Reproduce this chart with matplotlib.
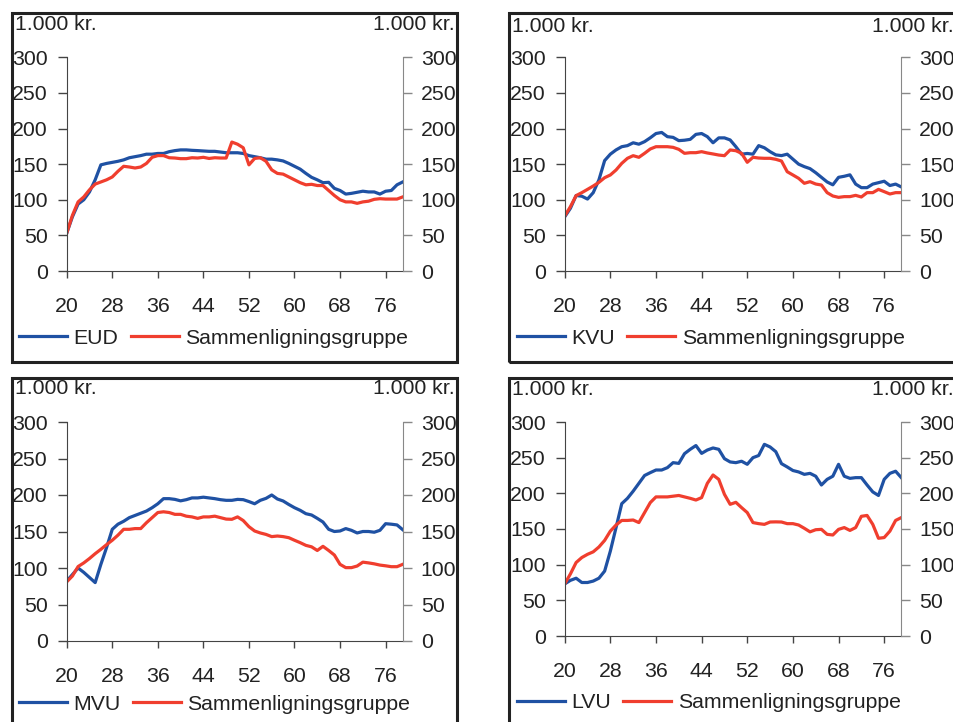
import matplotlib
matplotlib.use("Agg")
import matplotlib.pyplot as plt
from matplotlib.patches import Rectangle

plt.rcParams['font.family'] = ['Liberation Sans', 'DejaVu Sans']

W, H = 954, 722
BLUE = '#1f51a3'
RED = '#f03e2e'
TXT = '#222222'
FS = 15.3

ages = list(range(20, 80))
xticks = [20, 28, 36, 44, 52, 60, 68, 76]
yticks = [0, 50, 100, 150, 200, 250, 300]

eud = [53, 76, 94, 100, 111, 128, 149, 151, 152.5, 154,
       156, 159, 160.5, 162, 164, 164, 165, 165, 167.5, 169,
       170, 170, 169.4, 169, 168.5, 168, 168, 167, 166, 166,
       166, 165, 162, 160.5, 159, 157, 157, 156, 154.5, 151,
       147, 143, 137, 131.5, 128, 124, 124.5, 116, 113, 108,
       109, 110.5, 112, 111, 111, 108, 112, 113, 121, 125]
eud_ref = [53, 78, 97, 104, 114, 122, 125, 128, 132, 140,
           147, 146, 144.6, 146, 151, 159.6, 162, 162, 159, 158.6,
           157.7, 157.7, 159, 158.6, 159.6, 158, 159, 158.6, 158.6, 181,
           178, 173, 149, 158, 159, 154, 142, 137, 136, 132,
           128, 124, 121, 121.7, 120, 120, 113, 106, 100, 97,
           97, 95, 97, 98, 100.6, 101.5, 101, 101, 101, 104]

kvu = [76, 88, 106, 105, 101, 110, 128, 155, 164, 170,
       174.5, 176, 180, 178, 181.6, 187, 193, 194.5, 188.6, 187.6,
       183, 183.6, 184.8, 191.8, 193, 188.6, 180, 186.9, 186.9, 184,
       174.5, 164, 165, 164, 176, 173, 167.5, 163, 162, 164,
       157, 150, 146.5, 143.7, 138, 131.5, 125, 121, 131.5, 133,
       135, 122, 117, 117, 122, 124, 126, 120, 122, 118]
kvu_ref = [77.2, 90.3, 105.8, 110, 114.6, 119.3, 124.5, 131, 134.8, 141.8,
           151.1, 158.2, 161.9, 159.6, 165.2, 171.3, 174.5, 174.5, 174.5, 173.6,
           170.8, 165.2, 166.1, 166.1, 167.5, 165.7, 164.3, 162.8, 161.9, 169.9,
           168.9, 165.2, 152.6, 159.6, 158.6, 158.2, 158.2, 156.8, 154.4, 139.4,
           134.8, 130.1, 123.1, 125.4, 122.1, 120.7, 110, 105.3, 103.4, 104.4,
           104.4, 106.2, 103.9, 110, 110, 114.6, 111.4, 108.1, 110, 110]

mvu = [82, 91, 100, 94, 87, 80, 105, 128, 153, 160,
       164, 169, 172, 175, 178, 182.6, 188, 195, 195, 194,
       192, 193.6, 196, 196, 197, 196, 195, 193.6, 192.7, 192.7,
       194, 193.6, 191, 188, 192.7, 195.4, 200, 194.5, 191.8, 187,
       182.6, 179, 174.4, 172.6, 168, 163, 153, 150, 150.7, 154,
       151.6, 148, 150, 150, 149, 151.6, 160.7, 160, 159, 152.5]
mvu_ref = [81, 89, 102, 107, 113, 119.6, 125.6, 132, 138, 145,
           153, 153, 154, 154, 162, 169, 176, 177, 176, 173.5,
           173.5, 171, 170, 168, 170, 170, 171, 169, 167, 166.7,
           170, 165, 156.6, 150.7, 148, 146, 143, 143.8, 143, 141.5,
           138, 134.7, 131, 129, 124, 129.7, 124, 117.8, 105, 100.5,
           100.5, 102.7, 108, 107, 105.7, 104, 103, 101.8, 101.8, 105]

lvu = [73, 78, 81, 75, 75, 77, 81, 91, 119, 152,
       185.5, 193, 203, 214, 225, 229, 232.7, 232.7, 236, 243,
       242, 255.6, 261.7, 267, 256, 260.7, 263.6, 261.7, 248.6, 244,
       243, 245, 240.7, 250, 253, 268.7, 265, 258.4, 241.6, 237,
       232, 230, 226.6, 228, 224, 211.7, 219.6, 224, 240.7, 224,
       221, 222, 222, 211.7, 202, 197, 219.6, 228, 231, 222]
lvu_ref = [73, 87, 103, 110, 114.5, 118, 124.8, 134, 147, 155.6,
           162, 162, 162.6, 159, 173, 187, 195, 195, 195, 196,
           197, 195, 193, 190.6, 194, 214, 225.7, 219.6, 198.6, 184.6,
           187.4, 180, 173, 159, 157.5, 156.5, 159.8, 160, 159.8, 157.5,
           157.5, 155.6, 151, 146, 149, 149.5, 142.5, 141.6, 149.5, 152,
           148, 152, 167.8, 169, 156.5, 137, 138, 147, 162, 166]

fig = plt.figure(figsize=(W / 100, H / 100), dpi=100)


def fx(x):
    return x / W


def fy(y):
    return 1 - y / H


# name, series, reference, axes (left, right, top, bottom px), box (x0, x1, y0, y1 px),
# legend anchor (px), unit label y (px)
panels = [
    ("EUD", eud, eud_ref, (66.7, 402.7, 57.3, 271), (12, 457, 13, 362), (19, 338), 24),
    ("KVU", kvu, kvu_ref, (564.7, 901.3, 57.3, 271), (509, 965, 13, 362), (517, 338), 26),
    ("MVU", mvu, mvu_ref, (66.7, 402.7, 422, 641), (12, 457, 378, 735), (19, 704), 388),
    ("LVU", lvu, lvu_ref, (564.7, 901.3, 422, 636), (509, 965, 378, 735), (517, 703), 390),
]

for name, s, ref, (l, r, t, b), (bx0, bx1, by0, by1), (lx, ly), uy in panels:
    fig.add_artist(Rectangle((fx(bx0), fy(by1)), fx(bx1) - fx(bx0), fy(by0) - fy(by1),
                             transform=fig.transFigure, fill=False, lw=2.2,
                             ec='#222222', clip_on=False))

    ax = fig.add_axes([fx(l), fy(b), fx(r) - fx(l), fy(t) - fy(b)])
    ax.plot(ages, s, color=BLUE, lw=2.3, label=name)
    ax.plot(ages, ref, color=RED, lw=2.3, label="Sammenligningsgruppe")
    ax.set_xlim(20, 79)
    ax.set_ylim(0, 300)
    ax.set_xticks(xticks)
    ax.set_yticks(yticks)
    ax.set_facecolor('none')
    ax.spines['top'].set_visible(False)
    ax.spines['right'].set_visible(False)
    ax.spines['left'].set_color('#444444')
    ax.spines['bottom'].set_color('#444444')
    ax.tick_params(axis='y', direction='out', length=6.5, width=1, color='#444444',
                   labelsize=FS, labelcolor=TXT, pad=7)
    ax.tick_params(axis='x', direction='out', length=5, width=1, color='#444444',
                   labelsize=FS, labelcolor=TXT, pad=14)

    ax2 = ax.twinx()
    ax2.set_ylim(0, 300)
    ax2.set_yticks(yticks)
    for sp in ['top', 'left', 'bottom']:
        ax2.spines[sp].set_visible(False)
    ax2.spines['right'].set_color('#888888')
    ax2.tick_params(axis='y', direction='out', length=6.5, width=1, color='#888888',
                    labelsize=FS, labelcolor=TXT, pad=6.5)

    fig.text(fx(bx0 + 3), fy(uy), "1.000 kr.", fontsize=FS, color=TXT,
             ha='left', va='center')
    fig.text(fx(r + 52), fy(uy), "1.000 kr.", fontsize=FS, color=TXT,
             ha='right', va='center')

    ax.legend(loc='center left', bbox_to_anchor=(fx(lx), fy(ly)),
              bbox_transform=fig.transFigure, ncol=2, frameon=False,
              fontsize=FS, handlelength=2.26, handletextpad=0.3,
              columnspacing=0.58, borderpad=0, borderaxespad=0,
              labelcolor=TXT)

fig.savefig("out.png", dpi=100)
